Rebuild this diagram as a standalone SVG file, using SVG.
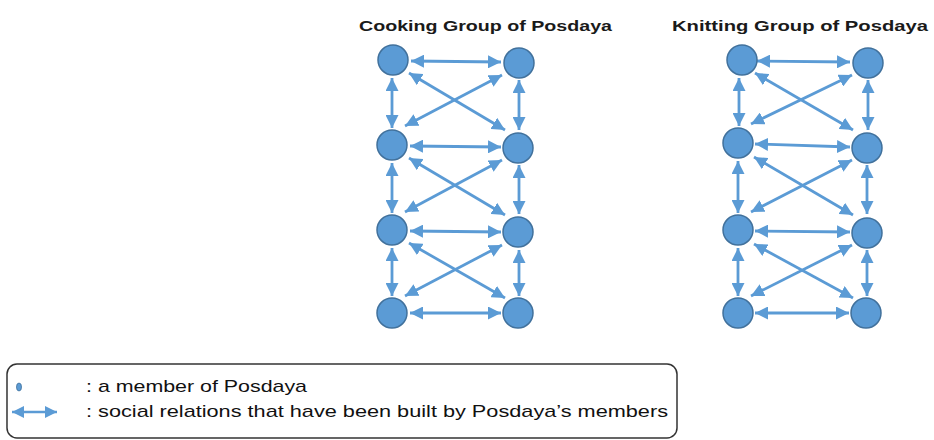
<svg xmlns="http://www.w3.org/2000/svg" width="934" height="440" viewBox="0 0 934 440">
<style>
.node{fill:#5B9BD5;stroke:#41719C;stroke-width:1.5}
.c line{stroke:#5B9BD5;stroke-width:2.8;marker-start:url(#ah);marker-end:url(#ah)}
.title{font-family:"Liberation Sans",Arial,sans-serif;font-weight:bold;font-size:15px;fill:#1a1a1a}
.leg{font-family:"Liberation Sans",Arial,sans-serif;font-size:17px;fill:#111}
</style>
<defs>
<marker id="ah" markerUnits="userSpaceOnUse" markerWidth="13" markerHeight="13" refX="10" refY="5" orient="auto-start-reverse" viewBox="0 0 10 10">
<path d="M0,0 L10,5 L0,10 z" fill="#5B9BD5"/>
</marker>
<marker id="ahs" markerUnits="userSpaceOnUse" markerWidth="12" markerHeight="12" refX="10" refY="5" orient="auto-start-reverse" viewBox="0 0 10 10">
<path d="M0,0 L10,5 L0,10 z" fill="#5B9BD5"/>
</marker>
</defs>
<rect width="934" height="440" fill="#fff"/>
<text class="title" x="359" y="31" textLength="253" lengthAdjust="spacingAndGlyphs">Cooking Group of Posdaya</text>
<text class="title" x="672" y="31" textLength="256" lengthAdjust="spacingAndGlyphs">Knitting Group of Posdaya</text>
<g id="connectors" class="c">
<line x1="411" y1="61" x2="501" y2="62"/>
<line x1="410" y1="146" x2="501" y2="147"/>
<line x1="410" y1="231" x2="501" y2="232"/>
<line x1="410" y1="313" x2="501" y2="313"/>
<line x1="392" y1="78" x2="392" y2="128"/>
<line x1="392" y1="163" x2="392" y2="213"/>
<line x1="392" y1="248" x2="392" y2="296"/>
<line x1="519" y1="80" x2="519" y2="130"/>
<line x1="519" y1="165" x2="519" y2="214"/>
<line x1="519" y1="250" x2="519" y2="296"/>
<line x1="409" y1="73" x2="505" y2="130"/>
<line x1="502" y1="75" x2="405" y2="126"/>
<line x1="409" y1="158" x2="505" y2="215"/>
<line x1="502" y1="160" x2="405" y2="212"/>
<line x1="409" y1="243" x2="505" y2="298"/>
<line x1="502" y1="245" x2="405" y2="296"/>
<line x1="757" y1="61" x2="850" y2="62"/>
<line x1="755" y1="144" x2="850" y2="147"/>
<line x1="755" y1="231" x2="850" y2="232"/>
<line x1="755" y1="313" x2="849" y2="313"/>
<line x1="739" y1="78" x2="739" y2="126"/>
<line x1="738" y1="161" x2="738" y2="213"/>
<line x1="738" y1="248" x2="738" y2="296"/>
<line x1="868" y1="80" x2="868" y2="130"/>
<line x1="867" y1="165" x2="867" y2="214"/>
<line x1="867" y1="250" x2="867" y2="296"/>
<line x1="755" y1="73" x2="853" y2="130"/>
<line x1="852" y1="75" x2="751" y2="124"/>
<line x1="754" y1="157" x2="853" y2="215"/>
<line x1="852" y1="160" x2="751" y2="212"/>
<line x1="754" y1="244" x2="853" y2="298"/>
<line x1="852" y1="245" x2="751" y2="296"/>
</g>
<g id="cook-L1"><circle class="node" cx="393" cy="60" r="15"/></g>
<g id="cook-R1"><circle class="node" cx="519" cy="63" r="15"/></g>
<g id="cook-L2"><circle class="node" cx="392" cy="145" r="15"/></g>
<g id="cook-R2"><circle class="node" cx="518" cy="148" r="15"/></g>
<g id="cook-L3"><circle class="node" cx="392" cy="230" r="15"/></g>
<g id="cook-R3"><circle class="node" cx="518" cy="232" r="15"/></g>
<g id="cook-L4"><circle class="node" cx="392" cy="313" r="15"/></g>
<g id="cook-R4"><circle class="node" cx="518" cy="313" r="15"/></g>
<g id="knit-L1"><circle class="node" cx="742" cy="60" r="15"/></g>
<g id="knit-R1"><circle class="node" cx="868" cy="63" r="15"/></g>
<g id="knit-L2"><circle class="node" cx="738" cy="143" r="15"/></g>
<g id="knit-R2"><circle class="node" cx="867" cy="148" r="15"/></g>
<g id="knit-L3"><circle class="node" cx="738" cy="230" r="15"/></g>
<g id="knit-R3"><circle class="node" cx="867" cy="233" r="15"/></g>
<g id="knit-L4"><circle class="node" cx="738" cy="313" r="15"/></g>
<g id="knit-R4"><circle class="node" cx="866" cy="313" r="15"/></g>
<g id="legend">
<rect x="7" y="364" width="670" height="74" rx="10" fill="none" stroke="#333" stroke-width="1.5"/>
<ellipse cx="19" cy="387" rx="2.5" ry="4" fill="#5B9BD5" stroke="#41719C" stroke-width="0.8"/>
<line x1="12" y1="412" x2="57" y2="412" stroke="#5B9BD5" stroke-width="2.6" marker-start="url(#ahs)" marker-end="url(#ahs)"/>
<text class="leg" x="86" y="392" textLength="221" lengthAdjust="spacingAndGlyphs">: a member of Posdaya</text>
<text class="leg" x="86" y="417" textLength="582" lengthAdjust="spacingAndGlyphs">: social relations that have been built by Posdaya’s members</text>
</g>
</svg>
